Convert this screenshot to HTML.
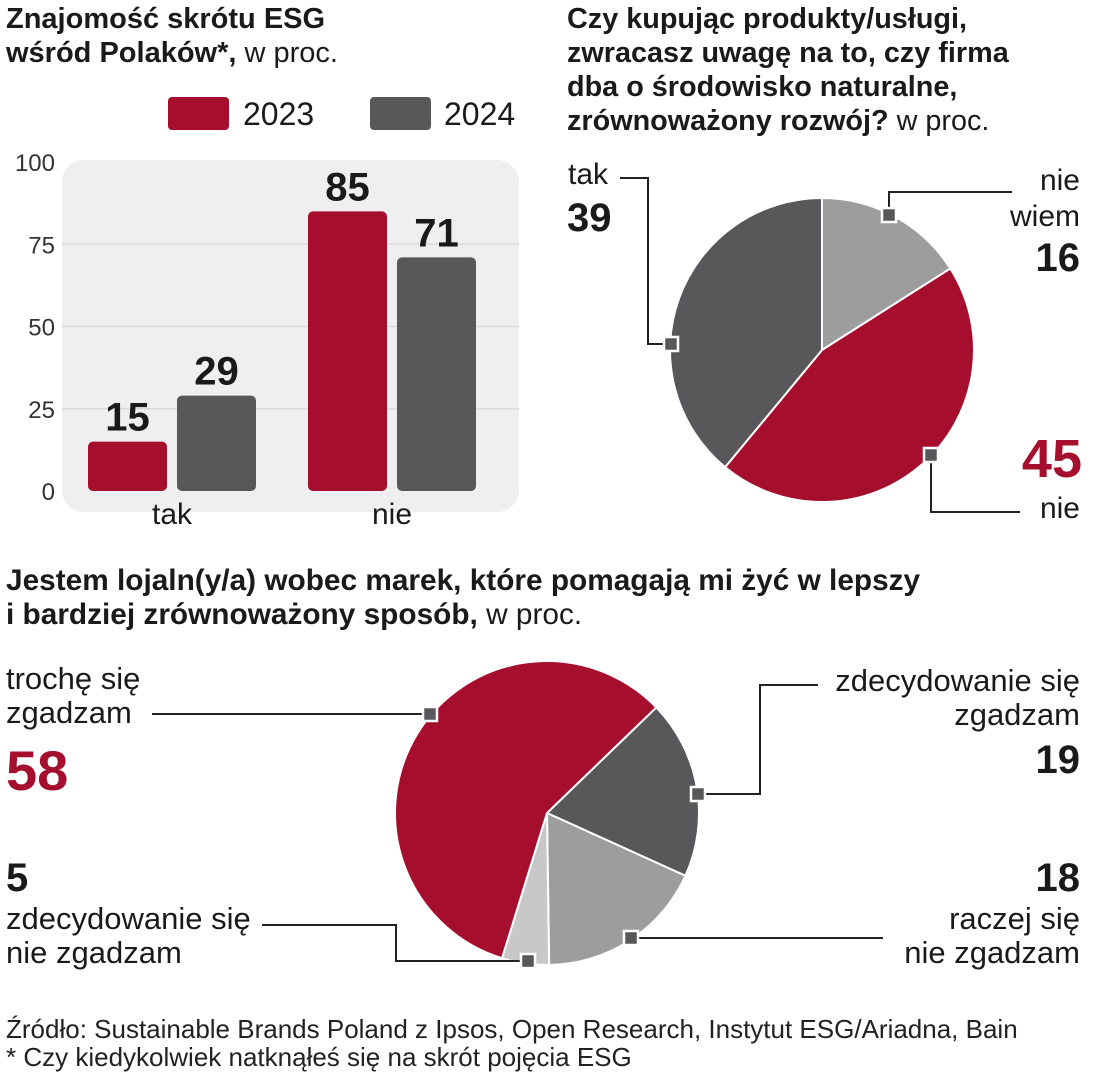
<!DOCTYPE html>
<html><head><meta charset="utf-8"><style>
body{margin:0;background:#fff;width:1094px;height:1080px;overflow:hidden;font-family:"Liberation Sans",sans-serif;color:#1a1a1a}
.t{position:absolute;white-space:nowrap}
.b{font-weight:bold}
svg{position:absolute;left:0;top:0}
</style></head><body>
<div class="t b" style="left:6px;top:2px;font-size:29px;line-height:34px">Znajomość skrótu ESG<br>wśród Polaków*,<span style="font-weight:normal"> w proc.</span></div>
<div class="t b" style="left:567px;top:2px;font-size:28.8px;line-height:34px">Czy kupując produkty/usługi,<br>zwracasz uwagę na to, czy firma<br>dba o środowisko naturalne,<br>zrównoważony rozwój?<span style="font-weight:normal"> w proc.</span></div>
<div class="t b" style="left:6px;top:564px;font-size:29.8px;line-height:34px">Jestem lojaln(y/a) wobec marek, które pomagają mi żyć w lepszy<br>i bardziej zrównoważony sposób,<span style="font-weight:normal"> w proc.</span></div>

<div class="t" style="left:168px;top:97px;font-size:32px;line-height:34px"><span style="display:inline-block;width:61px;height:33px;background:#a50e2d;border-radius:4px;vertical-align:top"></span><span style="margin-left:14px">2023</span></div>
<div class="t" style="left:370px;top:97px;font-size:32px;line-height:34px"><span style="display:inline-block;width:61px;height:33px;background:#58585a;border-radius:4px;vertical-align:top"></span><span style="margin-left:13px">2024</span></div>

<svg width="1094" height="1080" id="svg"></svg>

<div class="t" style="left:568px;top:158px;font-size:30px">tak</div>
<div class="t b" style="left:567px;top:196px;font-size:40px">39</div>
<div class="t" style="right:14px;top:163px;font-size:30px;text-align:right;line-height:36px">nie<br>wiem</div>
<div class="t b" style="right:14px;top:236px;font-size:40px">16</div>
<div class="t b" style="right:12px;top:428px;font-size:54px;color:#a50e2d">45</div>
<div class="t" style="right:14px;top:492px;font-size:30px">nie</div>

<div class="t" style="left:6px;top:662px;font-size:31px;line-height:34px">trochę się<br>zgadzam</div>
<div class="t b" style="left:6px;top:738px;font-size:56px;color:#a50e2d">58</div>
<div class="t" style="right:14px;top:664px;font-size:31px;line-height:34px;text-align:right">zdecydowanie się<br>zgadzam</div>
<div class="t b" style="right:14px;top:738px;font-size:40px">19</div>
<div class="t b" style="left:6px;top:856px;font-size:40px">5</div>
<div class="t" style="left:6px;top:902px;font-size:31px;line-height:34px">zdecydowanie się<br>nie zgadzam</div>
<div class="t b" style="right:14px;top:856px;font-size:40px">18</div>
<div class="t" style="right:14px;top:902px;font-size:31px;line-height:34px;text-align:right">raczej się<br>nie zgadzam</div>

<div class="t" style="left:6px;top:1015px;font-size:26px;line-height:28px;color:#222">Źródło: Sustainable Brands Poland z Ipsos, Open Research, Instytut ESG/Ariadna, Bain<br>* Czy kiedykolwiek natknąłeś się na skrót pojęcia ESG</div>

<script>
const categories=["tak","nie"];
const series2023=[15,85];
const series2024=[29,71];
const yTicks=[0,25,50,75,100];
const pie1Labels=["nie wiem","nie","tak"];
const pie1Values=[16,45,39];
const pie2Labels=["zdecydowanie się zgadzam","raczej się nie zgadzam","zdecydowanie się nie zgadzam","trochę się zgadzam"];
const pie2Values=[19,18,5,58];

const NS="http://www.w3.org/2000/svg";
const svg=document.getElementById('svg');
function mk(tag,attrs,parent){const e=document.createElementNS(NS,tag);for(const k in attrs)e.setAttribute(k,attrs[k]);(parent||svg).appendChild(e);return e;}
const y0=491,pxPer=3.29;
const yScale=v=>y0-v*pxPer;
const grp=[88,308];
const bg=mk('rect',{x:62,y:160,width:457,height:352,rx:22,fill:'#efefef'});


yTicks.forEach(v=>{
  if(v>0&&v<100){const l=mk('line',{x1:62,x2:519,y1:yScale(v),y2:yScale(v),stroke:'#dadada','stroke-width':1.5});
  
  }
  const t=mk('text',{x:55,y:yScale(v)+9,'text-anchor':'end','font-size':24,fill:'#333','font-family':'Liberation Sans, sans-serif'});
  t.textContent=v;
  
  
});
categories.forEach((c,i)=>{
  [[series2023[i],'#a50e2d',0],[series2024[i],'#58585a',89]].forEach(([v,col,off])=>{
    const x=grp[i]+off;
    const r=mk('rect',{x:x,y:yScale(v),width:79,height:y0-yScale(v),rx:5,fill:col});
    
    
    const t=mk('text',{x:x+39.5,y:yScale(v)-11,'text-anchor':'middle','font-size':40,'font-weight':'bold',fill:'#1a1a1a','font-family':'Liberation Sans, sans-serif'});
    t.textContent=v;
    
    
  });
  const t=mk('text',{x:grp[i]+84,y:524,'text-anchor':'middle','font-size':30,fill:'#1a1a1a','font-family':'Liberation Sans, sans-serif'});
  t.textContent=c;
  
  
});
function pie(cx,cy,r,vals,cols,start,name){
  const tot=vals.reduce((a,b)=>a+b,0);let a=start;
  vals.forEach((v,i)=>{
    const a2=a+v/tot*360;
    const p=d=>[cx+r*Math.sin(d*Math.PI/180),cy-r*Math.cos(d*Math.PI/180)];
    const [x1,y1]=p(a),[x2,y2]=p(a2);
    const s=mk('path',{d:`M${cx},${cy}L${x1},${y1}A${r},${r} 0 ${a2-a>180?1:0} 1 ${x2},${y2}Z`,fill:cols[i],stroke:'#fff','stroke-width':2});
    
    
    a=a2;
  });
}
pie(822,350,152,pie1Values,['#9d9d9d','#a50e2d','#58585a'],0,'pie1');
pie(547,813,152,pie2Values,['#58585a','#9d9d9d','#c8c8c8','#a50e2d'],46,'pie2');
const leaders=["M620,178H648V344H664","M889,208V192H1012","M931,462V512H1020","M152,714H423","M705,794H760V685H818","M638,938H883","M262,925H396V961H521"];
leaders.forEach(d=>{const l=mk('path',{d:d,fill:'none',stroke:'#222','stroke-width':2});

});
[[889,215],[671,344],[931,455],[430,714],[698,794],[631,938],[528,961]].forEach(([x,y])=>{
  const m=mk('rect',{x:x-7,y:y-7,width:14,height:14,fill:'#58585a',stroke:'#fff','stroke-width':2.5});
  
  
});
</script>
</body></html>
